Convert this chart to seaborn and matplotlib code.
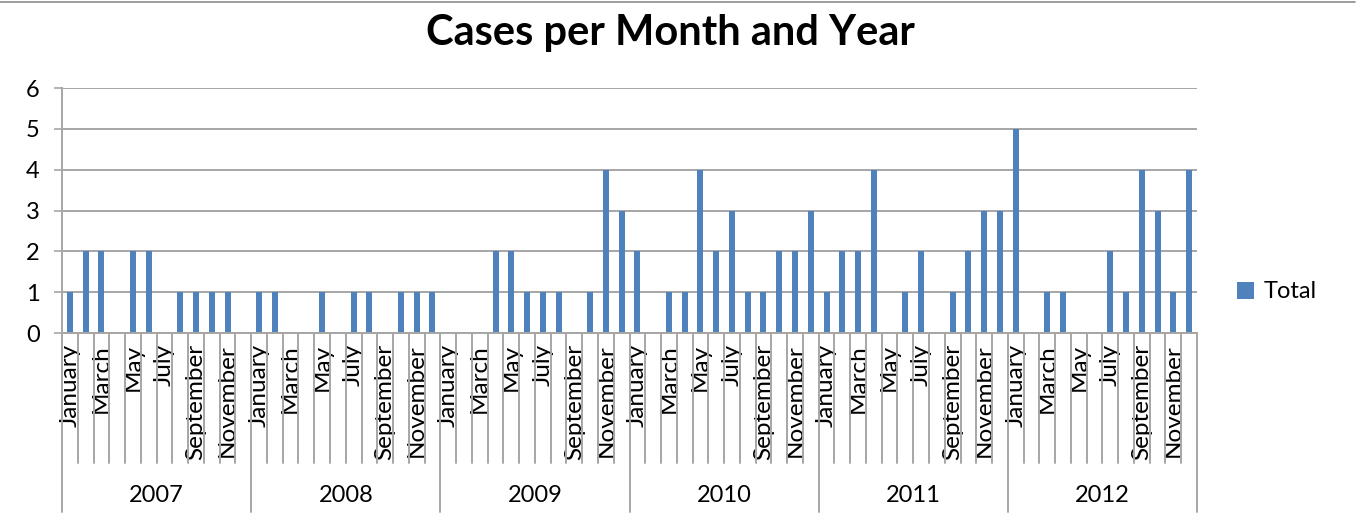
import matplotlib
matplotlib.use("Agg")
import matplotlib.pyplot as plt
import matplotlib.transforms as mtransforms
from matplotlib.lines import Line2D
from matplotlib.patches import Patch
import seaborn as sns
import pandas as pd

years = ["2007", "2008", "2009", "2010", "2011", "2012"]
months = ["January", "February", "March", "April", "May", "June", "July",
          "August", "September", "October", "November", "December"]
cases_2007 = [1, 2, 2, 0, 2, 2, 0, 1, 1, 1, 1, 0]
cases_2008 = [1, 1, 0, 0, 1, 0, 1, 1, 0, 1, 1, 1]
cases_2009 = [0, 0, 0, 2, 2, 1, 1, 1, 0, 1, 4, 3]
cases_2010 = [2, 0, 1, 1, 4, 2, 3, 1, 1, 2, 2, 3]
cases_2011 = [1, 2, 2, 4, 0, 1, 2, 0, 1, 2, 3, 3]
cases_2012 = [5, 0, 1, 1, 0, 0, 2, 1, 4, 3, 1, 4]
yticks = [0, 1, 2, 3, 4, 5, 6]

all_cases = [cases_2007, cases_2008, cases_2009, cases_2010, cases_2011, cases_2012]
rows = []
for y, vals in zip(years, all_cases):
    for m, v in zip(months, vals):
        rows.append({"key": f"{y}-{m}", "Year": y, "Month": m, "Total": v})
df = pd.DataFrame(rows)

sns.set_theme(style="white")
plt.rcParams["font.family"] = ["Lato", "DejaVu Sans"]
plt.rcParams["text.color"] = "black"
plt.rcParams["xtick.color"] = "black"
plt.rcParams["ytick.color"] = "black"

BLUE = "#4F81BD"
GRID = "#A6A6A6"

fig = plt.figure(figsize=(13.63, 5.23), dpi=100)
ax = fig.add_axes([62 / 1363, 1 - 333 / 523, (1197 - 62) / 1363, (333 - 88) / 523])

sns.barplot(data=df, x="key", y="Total", color=BLUE, width=0.38,
            saturation=1, linewidth=0, ax=ax, order=df["key"].tolist())

n = len(df)
ax.set_xlim(-0.5, n - 0.5)
ax.set_ylim(0, 6)
ax.set_yticks(yticks)
ax.set_yticklabels([str(t) for t in yticks], fontsize=17, color="black")
ax.yaxis.grid(True, color=GRID, linewidth=1.4)
ax.set_axisbelow(True)
ax.set_xlabel("")
ax.set_ylabel("")
ax.tick_params(axis="y", length=6, width=1.2, color=GRID, pad=10, left=True)
for s in ["top", "right"]:
    ax.spines[s].set_visible(False)
for s in ["left", "bottom"]:
    ax.spines[s].set_color(GRID)
    ax.spines[s].set_linewidth(1.4)

ax.set_xticks(range(n))
labels = [m if i % 2 == 0 else "" for i, m in enumerate(df["Month"])]
ax.set_xticklabels(labels, rotation=90, fontsize=17.5, va="top", ha="center",
                   color="black")
ax.tick_params(axis="x", length=0, pad=8)

trans = mtransforms.blended_transform_factory(ax.transData, ax.transAxes)
month_depth = -(463 - 333) / 245
year_depth = -(512 - 333) / 245
for i in range(n + 1):
    x = i - 0.5
    depth = year_depth if i % 12 == 0 else month_depth
    ax.add_line(Line2D([x, x], [0, depth], transform=trans, color=GRID,
                       linewidth=1.4, clip_on=False))
for j, y in enumerate(years):
    ax.text(j * 12 + 5.5, -(495 - 333) / 245, y, transform=trans,
            ha="center", va="center", fontsize=17, color="black")

fig.text(0.492, 1 - 33 / 523, "Cases per Month and Year", ha="center",
         va="center", fontsize=30, fontweight="bold", color="black")

fig.add_artist(Line2D([0, 1355 / 1363], [1 - 2 / 523, 1 - 2 / 523],
                      transform=fig.transFigure, color="#8C8C8C", linewidth=1.2))

handle = Patch(facecolor=BLUE, edgecolor="none", label="Total")
fig.legend(handles=[handle], loc="center left",
           bbox_to_anchor=(1216 / 1363, 1 - 292 / 523), frameon=False,
           fontsize=17, handlelength=0.7, handleheight=0.7, handletextpad=0.4)

fig.savefig("out.png", dpi=100)
